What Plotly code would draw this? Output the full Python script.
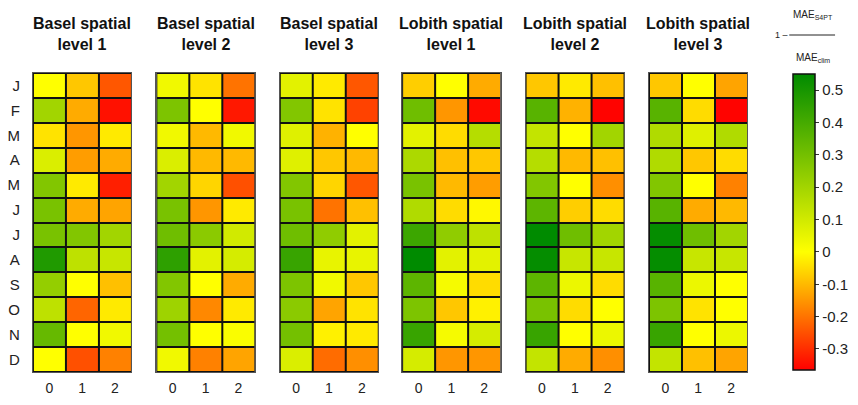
import plotly.graph_objects as go

# ── data ─────────────────────────────────────────────────────────────────────
MONTHS = ["J", "F", "M", "A", "M", "J", "J", "A", "S", "O", "N", "D"]
LEADS = [0, 1, 2]
PANEL_TITLES = [
    "Basel spatial<br>level 1", "Basel spatial<br>level 2", "Basel spatial<br>level 3",
    "Lobith spatial<br>level 1", "Lobith spatial<br>level 2", "Lobith spatial<br>level 3",
]

# skill score 1 - MAE_S4PT / MAE_clim, rows = months, cols = lead 0,1,2
basel_l1 = [
    [0.00, -0.08, -0.24], [0.20, -0.12, -0.34], [-0.04, -0.15, -0.03], [0.08, -0.14, -0.12],
    [0.27, -0.03, -0.32], [0.29, -0.12, -0.13], [0.29, 0.27, 0.20], [0.48, 0.14, 0.12],
    [0.23, 0.00, -0.09], [0.14, -0.22, -0.03], [0.33, 0.00, 0.03], [0.00, -0.25, -0.18],
]
basel_l2 = [
    [0.03, -0.04, -0.20], [0.28, 0.00, -0.33], [0.03, -0.10, 0.03], [0.08, -0.10, -0.10],
    [0.20, -0.06, -0.25], [0.29, -0.15, -0.03], [0.31, 0.25, 0.10], [0.45, 0.06, 0.09],
    [0.27, 0.00, -0.12], [0.21, -0.17, -0.03], [0.30, 0.00, 0.01], [0.03, -0.18, -0.13],
]
basel_l3 = [
    [0.06, -0.03, -0.24], [0.27, -0.04, -0.27], [0.07, -0.11, 0.00], [0.07, -0.08, -0.10],
    [0.27, -0.06, -0.24], [0.29, -0.20, -0.09], [0.31, 0.24, 0.06], [0.43, 0.05, 0.05],
    [0.28, 0.03, -0.08], [0.25, -0.13, -0.04], [0.30, -0.02, -0.03], [0.08, -0.21, -0.16],
]
lobith_l1 = [
    [-0.07, 0.00, -0.12], [0.31, -0.15, -0.35], [0.06, -0.05, 0.16], [0.18, -0.09, -0.08],
    [0.29, -0.10, -0.14], [0.17, -0.05, -0.01], [0.42, 0.24, 0.14], [0.55, 0.06, 0.06],
    [0.35, 0.02, -0.05], [0.28, -0.08, -0.02], [0.43, 0.02, 0.09], [0.09, -0.15, -0.15],
]
lobith_l2 = [
    [-0.08, -0.03, -0.09], [0.36, -0.11, -0.36], [0.13, 0.00, 0.20], [0.16, -0.10, -0.09],
    [0.27, 0.00, -0.16], [0.35, -0.07, -0.05], [0.55, 0.31, 0.20], [0.54, 0.12, 0.12],
    [0.35, 0.04, -0.05], [0.29, -0.05, 0.00], [0.43, 0.00, 0.04], [0.13, -0.12, -0.16],
]
lobith_l3 = [
    [-0.08, 0.00, -0.13], [0.36, -0.05, -0.36], [0.17, 0.07, 0.17], [0.17, -0.08, -0.05],
    [0.27, 0.00, -0.18], [0.36, -0.12, -0.10], [0.54, 0.31, 0.20], [0.54, 0.12, 0.12],
    [0.36, 0.04, 0.00], [0.28, -0.04, 0.00], [0.43, 0.00, 0.04], [0.13, -0.09, -0.13],
]
PANELS = [basel_l1, basel_l2, basel_l3, lobith_l1, lobith_l2, lobith_l3]

CB_TICKS = [-0.3, -0.2, -0.1, 0, 0.1, 0.2, 0.3, 0.4, 0.5]
ZMIN, ZMAX = -0.365, 0.55

# ── layout helpers ───────────────────────────────────────────────────────────
# page is 858x405 but the html body has an 8px margin, so the figure is
# 842x389 and every position below is given in page pixels, then shifted
OFF = 8
W, H = 858 - 2 * OFF, 405 - 2 * OFF
FONT = "Liberation Sans, Arial, sans-serif"


def px(x):
    return (x - OFF) / W


def py(y):
    return 1 - (y - OFF) / H


PANEL_LEFT = [33, 157, 281, 404, 528, 652]
PANEL_W = 99
TOP, BOTTOM = 73, 372

zero = (0 - ZMIN) / (ZMAX - ZMIN)
colorscale = [[0, "#ff0000"], [zero, "#ffff00"], [1, "#008b00"]]

fig = go.Figure()

for i, (z, title) in enumerate(zip(PANELS, PANEL_TITLES)):
    n = "" if i == 0 else str(i + 1)
    fig.add_trace(go.Heatmap(
        z=z,
        x=LEADS,
        y=list(range(len(MONTHS))),
        zmin=ZMIN, zmax=ZMAX,
        colorscale=colorscale,
        xgap=2, ygap=2,
        showscale=(i == 0),
        colorbar=dict(
            x=px(797), xanchor="left",
            y=py(222), yanchor="middle",
            len=(370 - 74) / H, lenmode="fraction",
            thickness=22, thicknessmode="pixels",
            outlinecolor="#111", outlinewidth=1.5,
            tickvals=CB_TICKS,
            ticktext=[f"{t:g}" for t in CB_TICKS],
            ticks="outside", ticklen=4, tickcolor="#333",
            tickfont=dict(size=15, color="#222", family=FONT),
            ypad=0, xpad=0,
        ),
        xaxis="x" + n, yaxis="y" + n,
        hovertemplate="lead %{x}<br>%{z:.2f}<extra></extra>",
    ))

    x0 = px(PANEL_LEFT[i])
    x1 = px(PANEL_LEFT[i] + PANEL_W)
    fig.layout["xaxis" + n] = dict(
        domain=[x0, x1], anchor="y" + n,
        range=[-0.5, 2.5],
        tickvals=LEADS, ticktext=[str(v) for v in LEADS],
        ticks="outside", ticklen=3, tickcolor="rgba(0,0,0,0)",
        tickfont=dict(size=14, color="#222", family=FONT),
        showgrid=False, zeroline=False,
        showline=True, mirror=True, linecolor="#555", linewidth=1,
        fixedrange=True,
    )
    fig.layout["yaxis" + n] = dict(
        domain=[py(BOTTOM), py(TOP)], anchor="x" + n,
        range=[11.5, -0.5],
        tickvals=list(range(len(MONTHS))), ticktext=MONTHS,
        showticklabels=(i == 0),
        ticks="outside" if i == 0 else "", ticklen=9, tickcolor="rgba(0,0,0,0)",
        tickfont=dict(size=15, color="#222", family=FONT),
        showgrid=False, zeroline=False,
        showline=True, mirror=True, linecolor="#555", linewidth=1,
        fixedrange=True,
    )

    fig.add_annotation(
        text=f"<b>{title}</b>",
        x=(x0 + x1) / 2, y=py(34.5),
        xref="paper", yref="paper",
        xanchor="center", yanchor="middle",
        showarrow=False,
        font=dict(size=16, color="#111", family=FONT),
    )

# colour bar title: 1 - MAE_S4PT / MAE_clim
cb_title = [
    ("MAE<sub>S4PT</sub>", 817, 15, 10),
    ("1 –", 785, 35, 9),
    ("MAE<sub>clim</sub>", 817, 58, 10),
]
for text, x, y, size in cb_title:
    fig.add_annotation(text=text, x=px(x), y=py(y),
                       xref="paper", yref="paper", showarrow=False,
                       xanchor="center", yanchor="middle",
                       font=dict(size=size, color="#222", family=FONT))
fig.add_shape(type="line", xref="paper", yref="paper",
              x0=px(793), x1=px(839), y0=py(35), y1=py(35),
              line=dict(color="#222", width=1))

fig.update_layout(
    width=W, height=H,
    margin=dict(l=0, r=0, t=0, b=0),
    paper_bgcolor="white",
    plot_bgcolor="#111",
    font=dict(family=FONT, color="#222"),
    showlegend=False,
)

fig.write_html("out.html")
